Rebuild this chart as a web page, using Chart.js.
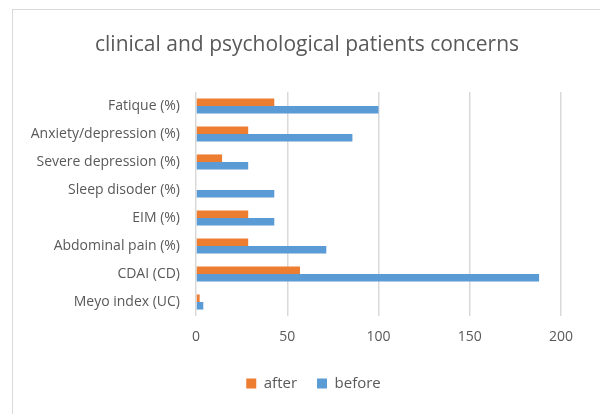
<!DOCTYPE html>
<html>
<head>
<meta charset="utf-8">
<script src="https://cdn.jsdelivr.net/npm/chart.js@4"></script>
<style>
  html, body { margin: 0; padding: 0; background: #fff; }
  #wrap { position: relative; width: 600px; height: 414px; overflow: hidden; }
  #frame { position: absolute; left: 12px; top: 9px; width: 700px; height: 500px;
           border-left: 1.5px solid #d9d9d9; border-top: 1.5px solid #d9d9d9; pointer-events: none; }
  canvas { position: absolute; left: 0; top: 0; }
</style>
</head>
<body>
<div id="wrap">
  <canvas id="c" width="600" height="414"></canvas>
  <div id="frame"></div>
</div>
<script>
const categories = [
  "Fatique (%)",
  "Anxiety/depression (%)",
  "Severe depression (%)",
  "Sleep disoder (%)",
  "EIM (%)",
  "Abdominal pain (%)",
  "CDAI (CD)",
  "Meyo index (UC)"
];
const afterValues  = [42.9, 28.6, 14.3, 0, 28.6, 28.6, 57, 2];
const beforeValues = [100, 85.7, 28.6, 42.9, 42.9, 71.4, 188, 4];
const xTicks = [0, 50, 100, 150, 200];
const titleText = "clinical and psychological patients concerns";

const FONT = "'Open Sans', Lato, sans-serif";
const GRAY = "#595959";

const titlePlugin = {
  id: "customTitle",
  afterDraw(chart) {
    const ctx = chart.ctx;
    ctx.save();
    ctx.font = "normal 21px " + FONT;
    ctx.fillStyle = GRAY;
    ctx.textAlign = "center";
    ctx.textBaseline = "middle";
    ctx.fillText(titleText, 307, 45);
    ctx.restore();
  }
};

const legendShift = {
  id: "legendShift",
  afterUpdate(chart) {
    const l = chart.legend;
    if (!l) return;
    const dx = 27;
    l.left += dx; l.right += dx;
    if (l.legendHitBoxes) l.legendHitBoxes.forEach(h => { h.left += dx; });
  }
};

new Chart(document.getElementById("c"), {
  type: "bar",
  data: {
    labels: categories,
    datasets: [
      { label: "after", data: afterValues, backgroundColor: "#ED7D31",
        barPercentage: 1, categoryPercentage: 0.54 },
      { label: "before", data: beforeValues, backgroundColor: "#5B9BD5",
        barPercentage: 1, categoryPercentage: 0.54 }
    ]
  },
  plugins: [titlePlugin, legendShift],
  options: {
    indexAxis: "y",
    responsive: false,
    animation: false,
    devicePixelRatio: 1,
    layout: { padding: { left: 12, right: 39, top: 92, bottom: 13 } },
    plugins: {
      title: { display: false },
      legend: {
        position: "bottom",
        labels: {
          color: GRAY,
          font: { family: FONT, size: 15 },
          boxWidth: 10, boxHeight: 10,
          padding: 20
        }
      },
      tooltip: { enabled: false }
    },
    scales: {
      x: {
        min: 0, max: 200,
        afterBuildTicks: (s) => { s.ticks = xTicks.map(v => ({ value: v })); },
        afterFit: (s) => { s.height = 40; },
        grid: { color: "#d9d9d9", lineWidth: 1.5, drawTicks: false },
        border: { display: false },
        ticks: { color: GRAY, font: { family: FONT, size: 14 }, padding: 13 }
      },
      y: {
        afterFit: (s) => { s.width = 184; },
        grid: { display: false, drawTicks: false },
        border: { display: false },
        ticks: { color: GRAY, font: { family: FONT, size: 14 }, padding: 16 }
      }
    }
  }
});
</script>
</body>
</html>
